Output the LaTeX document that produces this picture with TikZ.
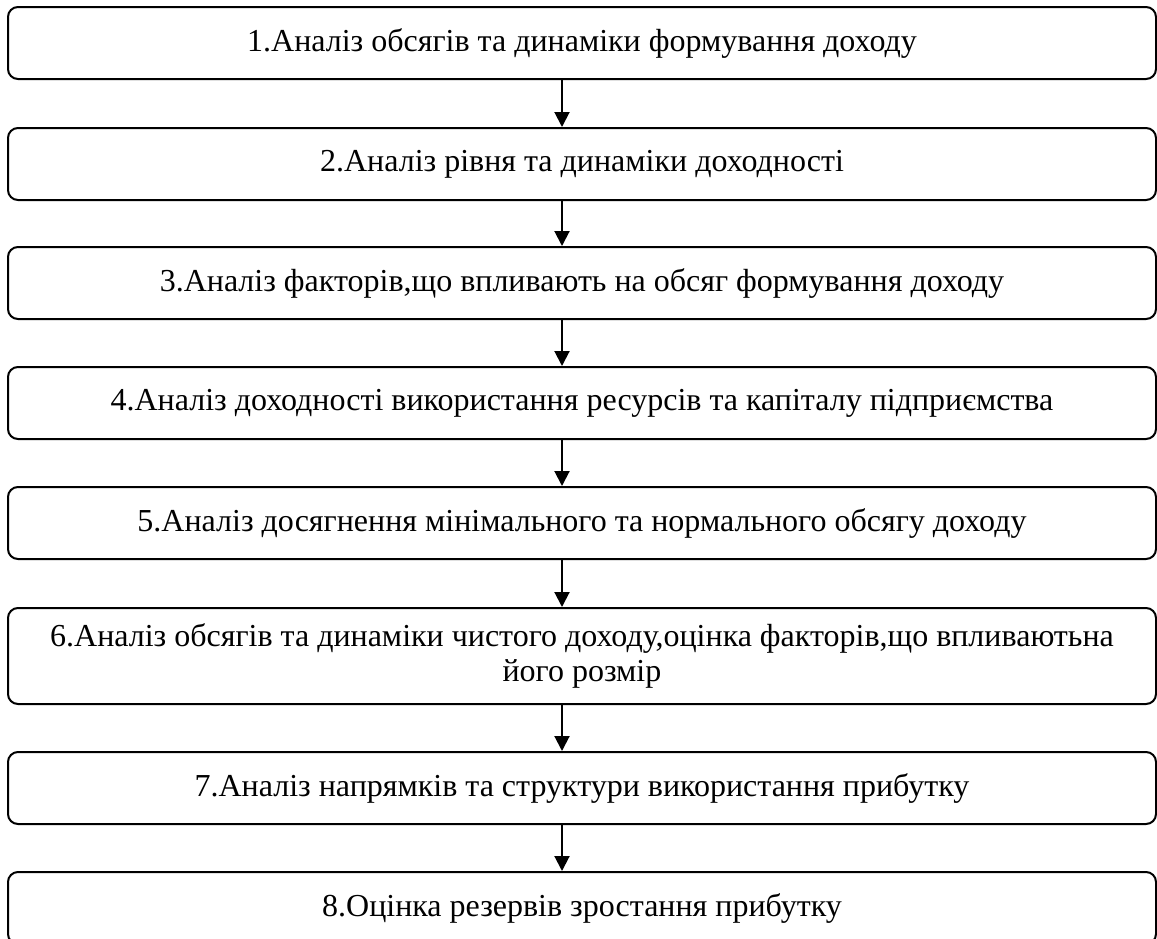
\documentclass[tikz,border=0pt]{standalone}
\usepackage{fontspec}
\setmainfont{Liberation Serif}
\usetikzlibrary{arrows.meta}

\begin{document}
\begin{tikzpicture}[x=0.5pt, y=-0.5pt,
    stage/.style={draw, line width=1pt, rounded corners=5pt, minimum width=574pt, minimum height=36pt, align=center, inner sep=0pt, font=\fontsize{16}{17.5}\selectfont},
    arr/.style={-{Triangle[length=7.5pt, width=7.5pt]}, line width=1pt}]
            \useasboundingbox (0,0) rectangle (1157,938);
            \clip (0,0) rectangle (1157,938);
            \node[stage] (1) at (582,43) {1.Аналіз обсягів та динаміки формування доходу};
            \node[stage] (2) at (582,164) {2.Аналіз рівня та динаміки доходності};
            \node[stage] (3) at (582,283) {3.Аналіз факторів,що впливають на обсяг формування доходу};
            \node[stage] (4) at (582,403) {4.Аналіз доходності використання ресурсів та капіталу підприємства};
            \node[stage] (5) at (582,523) {5.Аналіз досягнення мінімального та нормального обсягу доходу};
            \node[stage, minimum height=48pt] (6) at (582,656) {6.Аналіз обсягів та динаміки чистого доходу,оцінка факторів,що впливаютьна\\ його розмір};
            \node[stage] (7) at (582,788) {7.Аналіз напрямків та структури використання прибутку};
            \node[stage] (8) at (582,908) {8.Оцінка резервів зростання прибутку};
            \draw[arr] ([xshift=-10pt]1.south) -- ([xshift=-10pt]2.north);
            \draw[arr] ([xshift=-10pt]2.south) -- ([xshift=-10pt]3.north);
            \draw[arr] ([xshift=-10pt]3.south) -- ([xshift=-10pt]4.north);
            \draw[arr] ([xshift=-10pt]4.south) -- ([xshift=-10pt]5.north);
            \draw[arr] ([xshift=-10pt]5.south) -- ([xshift=-10pt]6.north);
            \draw[arr] ([xshift=-10pt]6.south) -- ([xshift=-10pt]7.north);
            \draw[arr] ([xshift=-10pt]7.south) -- ([xshift=-10pt]8.north);
        \end{tikzpicture}
\end{document}
